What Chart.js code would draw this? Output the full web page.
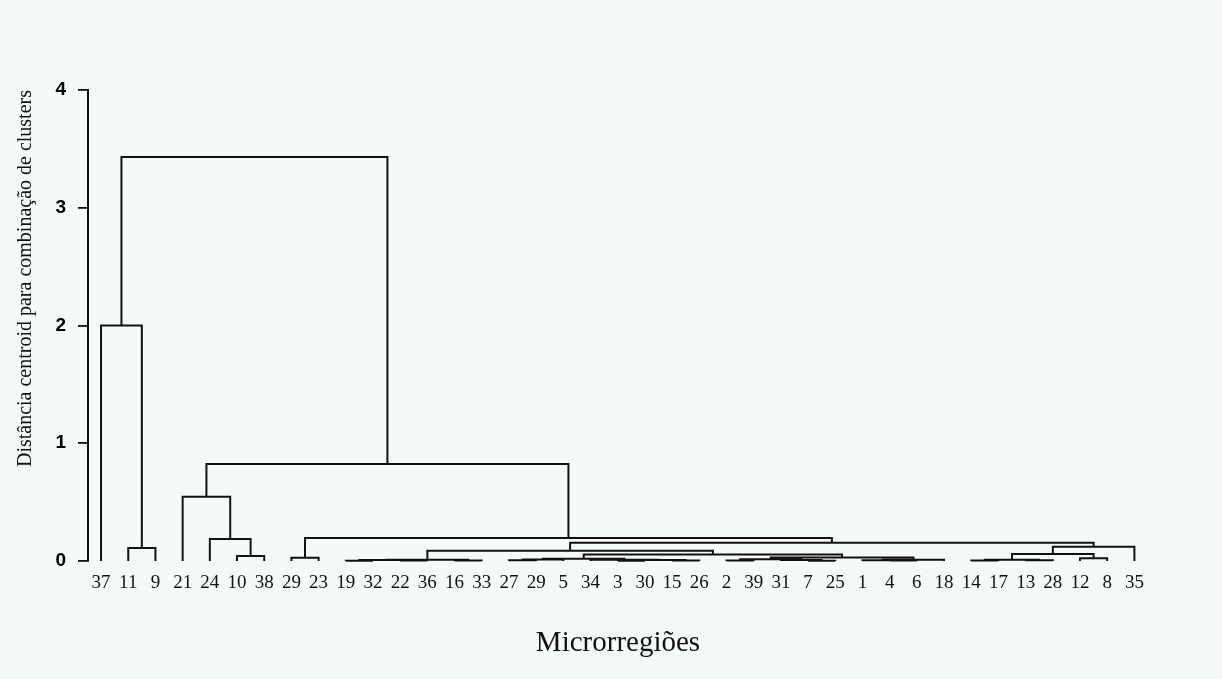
<!DOCTYPE html>
<html>
<head>
<meta charset="utf-8">
<script src="https://cdn.jsdelivr.net/npm/chart.js@4.4.1/dist/chart.umd.min.js"></script>
<style>
  html, body { margin: 0; padding: 0; background: #f5faf6; }
  #wrap { width: 1222px; height: 679px; }
</style>
</head>
<body>
<div id="wrap"><canvas id="dendro" width="1222" height="679"></canvas></div>
<script>
// leaf order as printed under the tree
const leafLabels = ['37','11','9','21','24','10','38','29','23','19','32','22','36','16','33',
  '27','29','5','34','3','30','15','26','2','39','31','7','25','1','4','6','18',
  '14','17','13','28','12','8','35'];

// merges: node ids 0..38 are leaves, merge k gets id 39 + k
const mergeLeft   = [ 9, 11, 39, 13, 41, 15, 44, 19, 21, 46, 18, 45, 23, 26, 25, 51, 29, 28, 56, 54, 50, 43, 32, 34, 61, 36, 63, 65, 60,  7, 68,  5,  4,  3, 72,  1,  0, 75];
const mergeRight  = [10, 12, 40, 14, 42, 16, 17, 20, 22, 47, 48, 49, 24, 27, 52, 53, 30, 55, 31, 57, 58, 59, 33, 35, 62, 37, 64, 38, 66,  8, 67,  6, 70, 71, 69,  2, 74, 73];
const mergeHeight = [0.003, 0.005, 0.008, 0.004, 0.01, 0.006, 0.012, 0.003, 0.005, 0.008, 0.01, 0.02,
  0.005, 0.003, 0.008, 0.015, 0.004, 0.007, 0.01, 0.03, 0.055, 0.087,
  0.004, 0.006, 0.01, 0.023, 0.06, 0.12, 0.155, 0.028, 0.195,
  0.042, 0.187, 0.546, 0.824, 0.11, 2.0, 3.43];

const yTicks = [0, 1, 2, 3, 4];

// build the U shapes from the linkage
const nodeX = leafLabels.map((_, i) => i);
const nodeY = leafLabels.map(() => 0);
const segs = [];
mergeHeight.forEach((h, k) => {
  const a = mergeLeft[k], b = mergeRight[k];
  segs.push({x: nodeX[a], y: nodeY[a]}, {x: nodeX[a], y: h},
            {x: nodeX[b], y: h}, {x: nodeX[b], y: nodeY[b]},
            {x: nodeX[b], y: null});
  nodeX.push((nodeX[a] + nodeX[b]) / 2);
  nodeY.push(h);
});

const ctx = document.getElementById('dendro').getContext('2d');

new Chart(ctx, {
  type: 'line',
  data: {
    datasets: [{
      data: segs,
      borderColor: '#111',
      borderWidth: 2,
      pointRadius: 0,
      tension: 0,
      spanGaps: false,
      clip: false
    }]
  },
  options: {
    responsive: false,
    animation: false,
    devicePixelRatio: 1,
    layout: { padding: { left: 10, top: 90, right: 74, bottom: 14 } },
    plugins: { legend: { display: false }, tooltip: { enabled: false } },
    scales: {
      x: {
        type: 'linear',
        min: -0.48,
        max: 38.5,
        afterFit: s => { s.height = 104; },
        afterBuildTicks: s => { s.ticks = leafLabels.map((_, i) => ({ value: i })); },
        grid: { display: false, drawTicks: false },
        border: { display: false },
        ticks: {
          autoSkip: false,
          maxRotation: 0,
          padding: 11,
          color: '#111',
          font: { family: 'Liberation Serif', size: 19 },
          callback: v => leafLabels[v]
        },
        title: {
          display: true,
          text: 'Microrregiões',
          color: '#111',
          font: { family: 'Liberation Serif', size: 29 }
        }
      },
      y: {
        min: 0,
        max: 4,
        afterFit: s => { s.width = 78; },
        afterBuildTicks: s => { s.ticks = yTicks.map(v => ({ value: v })); },
        grid: { drawOnChartArea: false, drawTicks: true, tickLength: 10, color: '#111', lineWidth: 1.8 },
        border: { display: true, color: '#111', width: 2 },
        ticks: {
          padding: 12,
          color: '#000',
          font: { family: 'Liberation Sans', size: 19, weight: 'bold' }
        },
        title: {
          display: true,
          text: 'Distância centroid para combinação de clusters',
          align: 'end',
          color: '#111',
          font: { family: 'Liberation Serif', size: 20 }
        }
      }
    }
  }
});
</script>
</body>
</html>
